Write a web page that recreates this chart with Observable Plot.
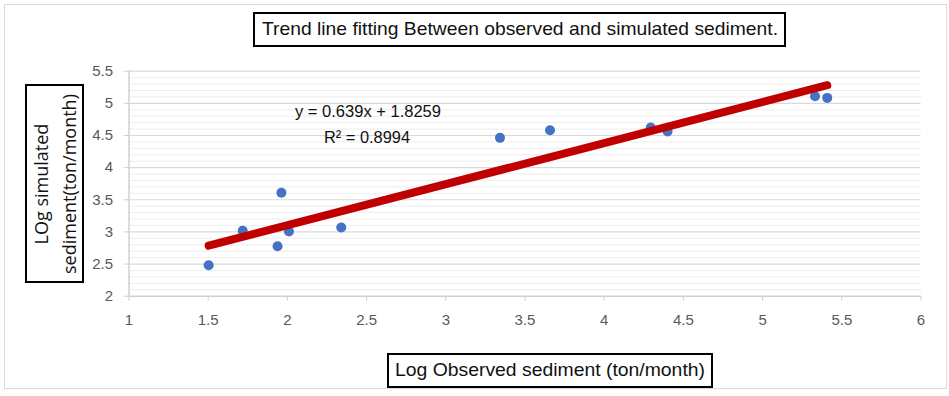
<!DOCTYPE html>
<html>
<head>
<meta charset="utf-8">
<script src="https://cdn.jsdelivr.net/npm/d3@7"></script>
<script src="https://cdn.jsdelivr.net/npm/@observablehq/plot@0.6"></script>
<style>
  body { margin: 0; background: #fff; }
  #wrap { position: relative; width: 949px; height: 396px; overflow: hidden; background: #fff; }
  #frame { position: absolute; left: 4px; top: 4px; width: 941px; height: 383px; border: 1.5px solid #dadada; }
  #plot { position: absolute; left: 0; top: 0; }
  .box { position: absolute; box-sizing: border-box; border: 2.5px solid #000; background: #fff; }
  .fit { position: absolute; white-space: nowrap; transform-origin: 0 0; }
  .narrow { font-family: "Liberation Sans Narrow", "Liberation Sans", sans-serif; color: #111; }
  #ylab { position: absolute; left: 50%; top: 50%; width: 198px; transform: translate(-50%, -50%) rotate(-90deg);
          font-family: "Open Sans", sans-serif; font-size: 18px; line-height: 28px; text-align: center; color: #111; white-space: nowrap; }
</style>
</head>
<body>
<div id="wrap">
  <div id="frame"></div>
  <div id="plot"></div>
  <div class="box" id="titleBox" style="left:253px; top:12px; width:533px; height:35px;">
    <span class="fit narrow" id="titleText" style="font-size:19px;">Trend line fitting Between observed and simulated sediment.</span>
  </div>
  <div class="box" id="xBox" style="left:387px; top:353px; width:326px; height:35px;">
    <span class="fit narrow" id="xText" style="font-size:19px;">Log Observed sediment (ton/month)</span>
  </div>
  <div class="box" id="yBox" style="left:25px; top:84px; width:59px; height:199px;">
    <div id="ylab">LOg simulated<br>sediment(ton/month)</div>
  </div>
  <span class="fit narrow" id="eq1" style="font-size:17px;">y = 0.639x + 1.8259</span>
  <span class="fit narrow" id="eq2" style="font-size:17px;">R² = 0.8994</span>
</div>
<script>
// Log observed vs. log simulated sediment load (ton/month)
const observed  = [1.503, 1.718, 1.938, 1.962, 2.010, 2.340, 3.342, 3.658, 4.294, 4.400, 5.331, 5.408];
const simulated = [2.482, 3.017, 2.778, 3.608, 3.006, 3.068, 4.463, 4.582, 4.624, 4.561, 5.110, 5.085];

// Linear trend line reported on the chart
const slope = 0.639;
const intercept = 1.8259;
const rSquared = 0.8994;

const xTicks = [1, 1.5, 2, 2.5, 3, 3.5, 4, 4.5, 5, 5.5, 6];
const yTicks = [2, 2.5, 3, 3.5, 4, 4.5, 5, 5.5];

const points = observed.map((x, i) => ({x, y: simulated[i]}));
const [xMin, xMax] = d3.extent(observed);
const trend = [xMin, xMax].map(x => ({x, y: slope * x + intercept}));

// minor horizontal gridlines every 0.1 between the major ones
const minorY = d3.range(21, 55).map(v => v / 10).filter(v => Math.abs(v * 2 - Math.round(v * 2)) > 1e-9);

const tickFont = "Liberation Sans Narrow, Liberation Sans, sans-serif";

const chart = Plot.plot({
  width: 949,
  height: 396,
  marginLeft: 128.5,
  marginRight: 28.5,
  marginTop: 70.7,
  marginBottom: 100.3,
  style: {background: "transparent", color: "#595959", fontFamily: tickFont, fontSize: "15px"},
  x: {domain: [1, 6]},
  y: {domain: [2, 5.5]},
  marks: [
    Plot.ruleY(minorY, {stroke: "#ededed", strokeWidth: 1}),
    Plot.ruleY(yTicks.slice(1), {stroke: "#d9d9d9", strokeWidth: 1.2}),
    Plot.ruleY([2], {stroke: "#d0d0d0", strokeWidth: 1.5}),
    Plot.ruleX([1], {stroke: "#d0d0d0", strokeWidth: 1.5}),
    Plot.axisX({ticks: xTicks, tickFormat: d => String(d), tickSize: 5, tickPadding: 13.5, stroke: "#d0d0d0", fill: "#595959", label: null, fontSize: 15}),
    Plot.axisY({ticks: yTicks, tickFormat: d => String(d), tickSize: 5, tickPadding: 11, stroke: "#d0d0d0", fill: "#595959", label: null, fontSize: 15}),
    Plot.dot(points, {x: "x", y: "y", r: 5, fill: "#4472C4", stroke: "none"}),
    Plot.line(trend, {x: "x", y: "y", stroke: "#C00000", strokeWidth: 8, strokeLinecap: "round"})
  ]
});
document.getElementById("plot").appendChild(chart);

document.getElementById("eq2").textContent = "R² = " + rSquared;

// Size each label to its target width and centre it at the given point
function place(id, width, cx, cy) {
  const el = document.getElementById(id);
  const r = el.getBoundingClientRect();
  const s = width / r.width;
  const parent = el.offsetParent.getBoundingClientRect();
  const isBox = el.parentElement.classList.contains("box");
  const ox = isBox ? parent.left + 2.5 : parent.left;
  const oy = isBox ? parent.top + 2.5 : parent.top;
  el.style.transform = `scaleX(${s})`;
  el.style.left = (cx - width / 2 - ox) + "px";
  el.style.top = (cy - r.height / 2 - oy) + "px";
}
place("titleText", 516, 520, 29.5);
place("xText", 310, 550, 370.5);
place("eq1", 146, 368, 112);
place("eq2", 86, 367, 137.5);
</script>
</body>
</html>
